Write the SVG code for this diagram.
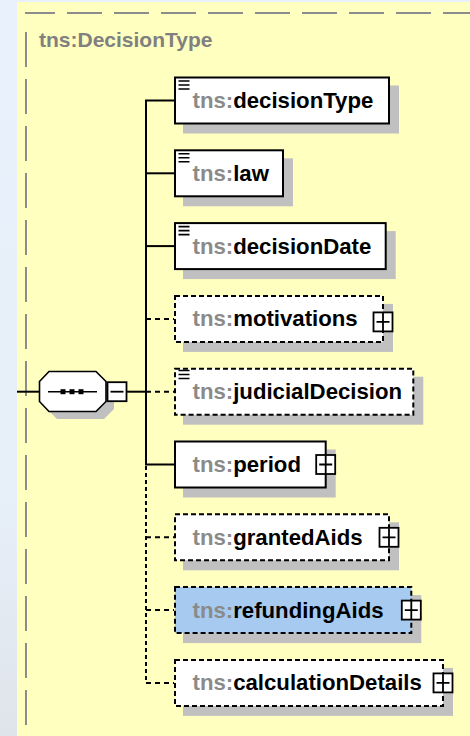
<svg xmlns="http://www.w3.org/2000/svg" width="470" height="736" viewBox="0 0 470 736">
<defs>
<linearGradient id="bgl" x1="0" y1="0" x2="0" y2="1">
<stop offset="0" stop-color="#e9f1fc"/>
<stop offset="0.7" stop-color="#e6eef8"/>
<stop offset="1" stop-color="#dfe4ea"/>
</linearGradient>
<g id="doc"><path d="M0,0h11M0,4h11M0,8h11" stroke="#000" stroke-width="1.6"/></g>
</defs>
<style>
.bd{fill:none;stroke:#8c8c8c;stroke-width:2;stroke-dasharray:35 12}
.sh{fill:#c0c0c0}
.box{fill:#fff;stroke:#000;stroke-width:2}
.opt{stroke-dasharray:5 3}
.sel{fill:#a6caf0}
.t{font-family:"Liberation Sans",Arial,sans-serif;font-weight:bold;font-size:22.2px;fill:#000}
.ns{fill:#8a8a8a}
.title{font-family:"Liberation Sans",Arial,sans-serif;font-weight:bold;font-size:21px;fill:#808080}
.ln{fill:none;stroke:#000;stroke-width:2}
.dl{fill:none;stroke:#000;stroke-width:2;stroke-dasharray:5 4}
.dv{fill:none;stroke:#000;stroke-width:2;stroke-dasharray:4 3}
.btn{fill:#fff;stroke:#000;stroke-width:1.8}
.pm{stroke:#000;stroke-width:1.8}
</style>
<rect x="0" y="0" width="470" height="736" fill="url(#bgl)"/>
<rect x="17" y="2" width="453" height="734" fill="#ffffc0"/>
<line class="bd" x1="25" y1="13" x2="470" y2="13" stroke-dashoffset="5"/>
<line class="bd" x1="26" y1="32" x2="26" y2="736"/>
<text class="title" x="39" y="46.5">tns:DecisionType</text>

<g id="connectors">
<line class="ln" x1="17" y1="391.7" x2="39" y2="391.7"/>
<line class="ln" x1="127" y1="391.7" x2="146" y2="391.7"/>
<path class="ln" d="M174,100.5H146V464.5H174"/>
<line class="ln" x1="146" y1="173.3" x2="174" y2="173.3"/>
<line class="ln" x1="146" y1="246.1" x2="174" y2="246.1"/>
<line class="dl" x1="146" y1="318.9" x2="174" y2="318.9"/>
<line class="dl" x1="146" y1="391.7" x2="174" y2="391.7"/>
<line class="dv" x1="146" y1="466" x2="146" y2="682.9"/>
<line class="dl" x1="146" y1="537.3" x2="174" y2="537.3"/>
<line class="dl" x1="146" y1="610.1" x2="174" y2="610.1"/>
<line class="dl" x1="146" y1="682.9" x2="174" y2="682.9"/>
</g>

<g id="sequence">
<polygon class="sh" points="57,379 104,379 114,389 114,409 104,419 57,419 47,409 47,389"/>
<polygon fill="#fff" stroke="#000" stroke-width="1.6" points="49,371.5 96,371.5 106,381.5 106,401.5 96,411.5 49,411.5 39.5,401.5 39.5,381.5"/>
<line x1="48" y1="391.7" x2="97" y2="391.7" stroke="#000" stroke-width="1.5"/>
<rect x="60.5" y="389.2" width="5" height="5" fill="#000"/>
<rect x="69.5" y="389.2" width="5" height="5" fill="#000"/>
<rect x="78.5" y="389.2" width="5" height="5" fill="#000"/>
<rect class="btn" x="107.5" y="382.2" width="19" height="19"/>
<line class="pm" x1="110.5" y1="391.7" x2="123.5" y2="391.7"/>
</g>

<g id="decisionType">
<rect class="sh" x="183" y="85.5" width="216" height="48"/>
<rect class="box" x="175" y="77.5" width="214" height="46"/>
<use href="#doc" x="178.5" y="81"/>
<text class="t" x="192.5" y="108"><tspan class="ns">tns:</tspan>decisionType</text>
</g>

<g id="law">
<rect class="sh" x="183" y="158.3" width="110" height="48"/>
<rect class="box" x="175" y="150.3" width="108" height="46"/>
<use href="#doc" x="178.5" y="153.8"/>
<text class="t" x="192.5" y="180.8"><tspan class="ns">tns:</tspan>law</text>
</g>

<g id="decisionDate">
<rect class="sh" x="183" y="231.1" width="212.7" height="48"/>
<rect class="box" x="175" y="223.1" width="210.7" height="46"/>
<use href="#doc" x="178.5" y="226.6"/>
<text class="t" x="192.5" y="253.6"><tspan class="ns">tns:</tspan>decisionDate</text>
</g>

<g id="motivations">
<rect class="sh" x="183" y="303.9" width="210" height="48"/>
<rect class="box opt" x="175" y="295.9" width="208" height="46"/>
<text class="t" x="192.5" y="326.4"><tspan class="ns">tns:</tspan>motivations</text>
<rect class="btn" x="373.5" y="312.4" width="19" height="19"/>
<path class="pm" d="M376.5,321.9h13M383,313v18"/>
</g>

<g id="judicialDecision">
<rect class="sh" x="183" y="376.7" width="240.3" height="48"/>
<rect class="box opt" x="175" y="368.7" width="238.3" height="46"/>
<use href="#doc" x="178.5" y="370.5"/>
<text class="t" x="192.5" y="399.2"><tspan class="ns">tns:</tspan>judicialDecision</text>
</g>

<g id="period">
<rect class="sh" x="183" y="449.5" width="152.7" height="48"/>
<rect class="box" x="175" y="441.5" width="150.7" height="46"/>
<text class="t" x="192.5" y="472"><tspan class="ns">tns:</tspan>period</text>
<rect class="btn" x="316.2" y="455" width="19" height="19"/>
<path class="pm" d="M319.2,464.5h13M325.7,455.5v18"/>
</g>

<g id="grantedAids">
<rect class="sh" x="183" y="522.3" width="216" height="48"/>
<rect class="box opt" x="175" y="514.3" width="214" height="46"/>
<text class="t" x="192.5" y="544.8"><tspan class="ns">tns:</tspan>grantedAids</text>
<rect class="btn" x="379.5" y="527.8" width="19" height="19"/>
<path class="pm" d="M382.5,537.3h13M389,528.3v18"/>
</g>

<g id="refundingAids">
<rect class="sh" x="183" y="595.1" width="238.3" height="48"/>
<rect class="box opt sel" x="175" y="587.1" width="236.3" height="46"/>
<text class="t" x="192.5" y="617.6"><tspan class="ns">tns:</tspan>refundingAids</text>
<rect class="btn" x="401.8" y="600.6" width="19" height="19"/>
<path class="pm" d="M404.8,610.1h13M411.3,601.1v18"/>
</g>

<g id="calculationDetails">
<rect class="sh" x="183" y="667.9" width="270" height="48"/>
<rect class="box opt" x="175" y="659.9" width="268" height="46"/>
<text class="t" x="192.5" y="690.4"><tspan class="ns">tns:</tspan>calculationDetails</text>
<rect class="btn" x="433.5" y="673.4" width="19" height="19"/>
<path class="pm" d="M436.5,682.9h13M443,673.9v18"/>
</g>
</svg>
